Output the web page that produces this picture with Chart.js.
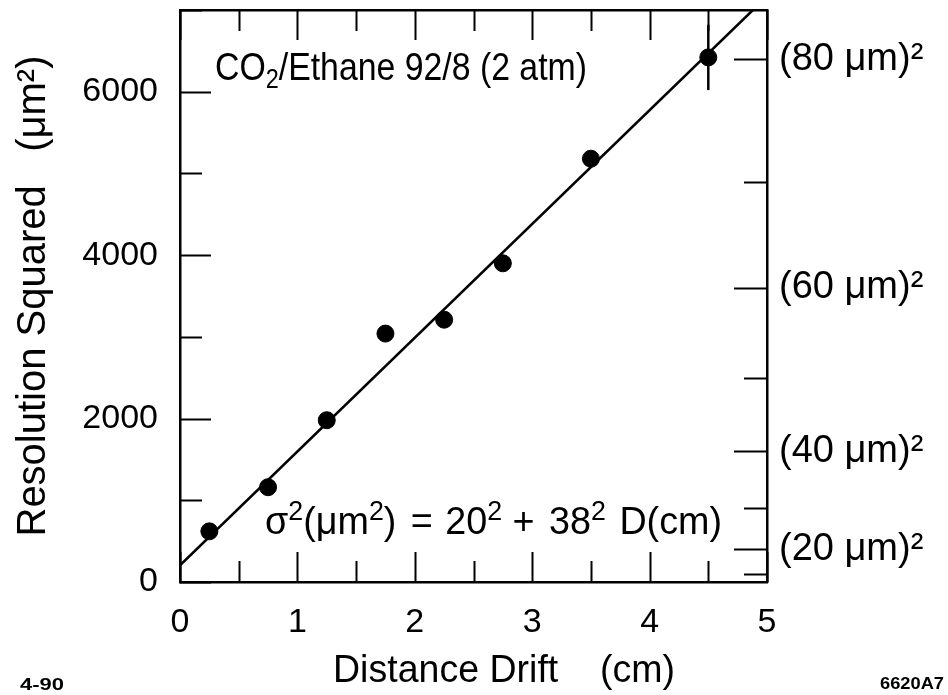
<!DOCTYPE html>
<html>
<head>
<meta charset="utf-8">
<script src="https://cdn.jsdelivr.net/npm/chart.js@4/dist/chart.umd.min.js"></script>
<style>
  html, body { margin: 0; padding: 0; background: #ffffff; }
  #wrap { width: 948px; height: 695px; }
</style>
</head>
<body>
<div id="wrap"><canvas id="c" width="948" height="695"></canvas></div>
<script>
// ---- data ----
const drift = [0.25, 0.75, 1.25, 1.75, 2.25, 2.75, 3.5, 4.5];          // cm
const resSq = [620, 1160, 1980, 3040, 3210, 3900, 5180, 6420];         // um^2
const resErr = [0, 0, 0, 0, 0, 0, 0, 400];                              // um^2
const fitDrift = [0, 4.88];
const fitRes = [205, 7000];
const xTickLabels = ['0', '1', '2', '3', '4', '5'];
const yTickValues = [0, 2000, 4000, 6000];
const yTickLabels = ['0', '2000', '4000', '6000'];
const rightTickValues = [400, 1600, 3600, 6400];
const rightTickLabels = ['(20 μm)²', '(40 μm)²', '(60 μm)²', '(80 μm)²'];
const rightMinorValues = [100, 400, 900, 1600, 2500, 3600, 4900, 6400];

const FONT = '"Liberation Sans", Arial, Helvetica, sans-serif';
const INK = '#000000';

function rich(ctx, parts, x, y, size, targetWidth, weight) {
  const w = weight ? weight + ' ' : '';
  const widths = parts.map(p => {
    const s = (p.sup || p.sub) ? Math.round(size * 0.7) : size;
    ctx.font = w + s + 'px ' + FONT;
    return ctx.measureText(p.t).width + (p.gap || 0);
  });
  const natural = widths.reduce((a, b) => a + b, 0);
  const k = targetWidth ? targetWidth / natural : 1;
  ctx.save();
  ctx.translate(x, y);
  ctx.scale(k, 1);
  let cx = 0;
  parts.forEach((p, i) => {
    const s = (p.sup || p.sub) ? Math.round(size * 0.7) : size;
    ctx.font = w + s + 'px ' + FONT;
    const dy = p.sup ? -size * 0.36 : (p.sub ? size * 0.2 : 0);
    ctx.fillText(p.t, cx, dy);
    cx += widths[i];
  });
  ctx.restore();
}

const framePlugin = {
  id: 'frame',
  afterDatasetsDraw(chart) {
    const ctx = chart.ctx;
    const xs = chart.scales.x, ys = chart.scales.y;
    const a = chart.chartArea;
    ctx.save();
    ctx.strokeStyle = INK;
    ctx.lineWidth = 2;
    for (let v = 0; v <= 5.0001; v += 0.5) {
      const px = Math.round(xs.getPixelForValue(v)) + 0.5;
      const major = Math.abs(v - Math.round(v)) < 1e-6;
      const len = major ? 30 : 21;
      ctx.beginPath();
      ctx.moveTo(px, a.bottom); ctx.lineTo(px, a.bottom - len);
      ctx.moveTo(px, a.top); ctx.lineTo(px, a.top + len);
      ctx.stroke();
    }
    for (let v = 0; v <= 7000; v += 1000) {
      const py = Math.round(ys.getPixelForValue(v)) + 0.5;
      const len = (v % 2000 === 0) ? 31 : 22;
      ctx.beginPath();
      ctx.moveTo(a.left, py); ctx.lineTo(a.left + len, py);
      ctx.stroke();
    }
    rightMinorValues.forEach(v => {
      const py = Math.round(ys.getPixelForValue(v)) + 0.5;
      const len = rightTickValues.includes(v) ? 33 : 23;
      ctx.beginPath();
      ctx.moveTo(a.right, py); ctx.lineTo(a.right - len, py);
      ctx.stroke();
    });
    ctx.lineWidth = 2.5;
    drift.forEach((d, i) => {
      if (!resErr[i]) return;
      const px = xs.getPixelForValue(d);
      ctx.beginPath();
      ctx.moveTo(px, ys.getPixelForValue(resSq[i] - resErr[i]));
      ctx.lineTo(px, ys.getPixelForValue(resSq[i] + resErr[i]));
      ctx.stroke();
    });
    ctx.restore();
  },
  afterDraw(chart) {
    const ctx = chart.ctx;
    const a = chart.chartArea;
    ctx.save();
    ctx.fillStyle = INK;
    ctx.textBaseline = 'alphabetic';
    ctx.textAlign = 'left';
    rich(ctx, [{t: 'CO'}, {t: '2', sub: true}, {t: '/Ethane 92/8 (2 atm)'}], a.left + 35, 80, 39, 372);
    rich(ctx, [{t: 'σ'}, {t: '2', sup: true}, {t: '(μm'}, {t: '2', sup: true}, {t: ')', gap: 4}, {t: ' = ', gap: 2}, {t: '20'},
          {t: '2', sup: true}, {t: ' + ', gap: 4}, {t: '38'}, {t: '2', sup: true, gap: 3}, {t: ' D(cm)'}], a.left + 85, 534, 38, 457);
    rich(ctx, [{t: 'Distance Drift'}, {t: '    (cm)'}], 333, 682, 39, 342);
    rich(ctx, [{t: '4-90'}], 20, 690, 17, 44, 'bold');
    rich(ctx, [{t: '6620A7'}], 880, 689, 17, 64, 'bold');
    ctx.restore();
  }
};

const ctx = document.getElementById('c').getContext('2d');
new Chart(ctx, {
  type: 'scatter',
  data: {
    datasets: [
      {
        type: 'line',
        data: fitDrift.map((d, i) => ({x: d, y: fitRes[i]})),
        borderColor: INK,
        borderWidth: 2.5,
        pointRadius: 0,
        fill: false,
        order: 2
      },
      {
        data: drift.map((d, i) => ({x: d, y: resSq[i]})),
        backgroundColor: INK,
        borderColor: INK,
        pointRadius: 8.5,
        pointHoverRadius: 8.5,
        order: 1
      }
    ]
  },
  plugins: [framePlugin],
  options: {
    responsive: false,
    animation: false,
    events: [],
    layout: { padding: 0 },
    plugins: { legend: { display: false }, tooltip: { enabled: false } },
    scales: {
      x: {
        type: 'linear', position: 'bottom', min: 0, max: 5,
        afterFit(s) { s.height = 113; s.paddingLeft = 0; s.paddingRight = 0; },
        grid: { display: false, drawTicks: false },
        border: { display: true, color: INK, width: 2.5 },
        ticks: {
          stepSize: 1, padding: 20, color: INK,
          font: { family: FONT, size: 34 },
          callback: (v) => xTickLabels[Math.round(v)]
        }
      },
      x2: {
        type: 'linear', position: 'top', min: 0, max: 5,
        afterFit(s) { s.height = 10; s.paddingLeft = 0; s.paddingRight = 0; },
        grid: { display: false, drawTicks: false },
        border: { display: true, color: INK, width: 2.5 },
        ticks: { display: false }
      },
      y: {
        type: 'linear', position: 'left', min: 0, max: 7000,
        afterFit(s) { s.width = 180; s.paddingTop = 0; s.paddingBottom = 0; },
        afterBuildTicks(s) { s.ticks = yTickValues.map(v => ({value: v})); },
        grid: { display: false, drawTicks: false },
        border: { display: true, color: INK, width: 2.5 },
        ticks: {
          padding: 22, color: INK,
          font: { family: FONT, size: 34 },
          callback: (v) => yTickLabels[yTickValues.indexOf(v)]
        },
        title: {
          display: true, text: 'Resolution Squared   (μm²)', color: INK,
          font: { family: FONT, size: 40 }, padding: { top: 10, bottom: 0 }
        }
      },
      y2: {
        type: 'linear', position: 'right', min: 0, max: 7000,
        afterFit(s) { s.width = 181; s.paddingTop = 0; s.paddingBottom = 0; },
        afterBuildTicks(s) { s.ticks = rightTickValues.map(v => ({value: v})); },
        grid: { display: false, drawTicks: false },
        border: { display: true, color: INK, width: 2.5 },
        ticks: {
          padding: 12, color: INK,
          font: { family: FONT, size: 38 },
          callback: (v) => rightTickLabels[rightTickValues.indexOf(v)]
        }
      }
    }
  }
});
</script>
</body>
</html>
